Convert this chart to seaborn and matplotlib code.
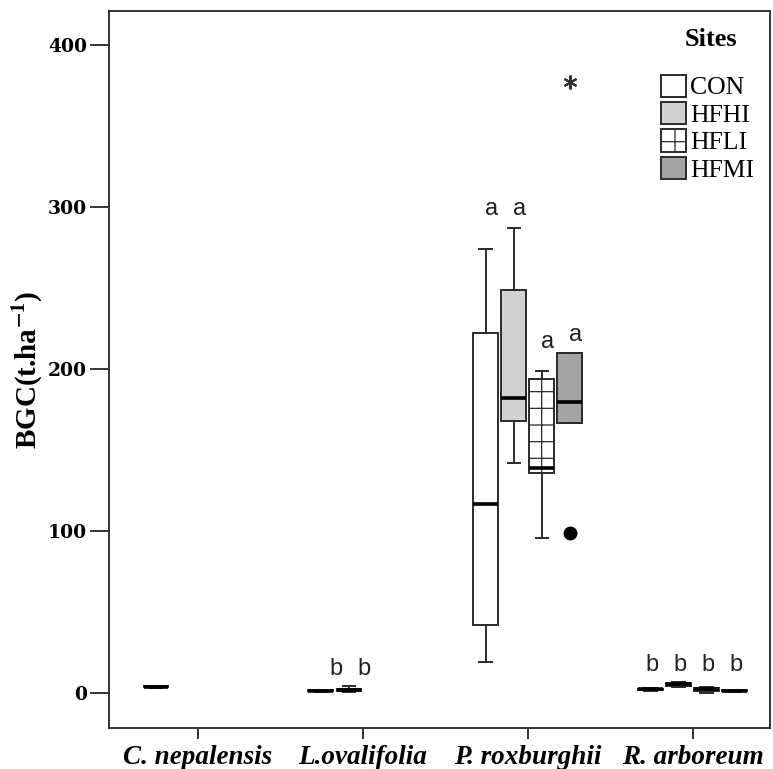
import numpy as np
import pandas as pd
import matplotlib.pyplot as plt
import seaborn as sns
from matplotlib.patches import Patch

# data (BGC, t/ha)
species = ['C. nepalensis', 'L.ovalifolia', 'P. roxburghii', 'R. arboreum']
sites = ['CON', 'HFHI', 'HFLI', 'HFMI']

c_nep_con = [3.2, 3.5, 3.9, 4.3, 4.6]
l_ova_con = [0.9, 1.1, 1.4, 1.7, 1.9]
l_ova_hfhi = [0.5, 1.2, 2.0, 2.7, 4.6]
p_rox_con = [19, 42, 117, 222, 274]
p_rox_hfhi = [142, 168, 182, 249, 287]
p_rox_hfli = [96, 136, 139, 194, 199]
p_rox_hfmi = [99, 167, 167, 180, 210, 210, 377]
r_arb_con = [1.6, 1.9, 2.3, 2.6, 2.9]
r_arb_hfhi = [3.9, 4.6, 5.5, 6.0, 6.6]
r_arb_hfli = [0.2, 1.4, 2.5, 3.3, 4.1]
r_arb_hfmi = [0.8, 1.1, 1.4, 1.7, 2.0]

groups = [
    ('C. nepalensis', 'CON', c_nep_con),
    ('L.ovalifolia', 'CON', l_ova_con),
    ('L.ovalifolia', 'HFHI', l_ova_hfhi),
    ('P. roxburghii', 'CON', p_rox_con),
    ('P. roxburghii', 'HFHI', p_rox_hfhi),
    ('P. roxburghii', 'HFLI', p_rox_hfli),
    ('P. roxburghii', 'HFMI', p_rox_hfmi),
    ('R. arboreum', 'CON', r_arb_con),
    ('R. arboreum', 'HFHI', r_arb_hfhi),
    ('R. arboreum', 'HFLI', r_arb_hfli),
    ('R. arboreum', 'HFMI', r_arb_hfmi),
]

# significance letters
letter_groups = [('L.ovalifolia', 'CON'), ('L.ovalifolia', 'HFHI'),
                 ('P. roxburghii', 'CON'), ('P. roxburghii', 'HFHI'),
                 ('P. roxburghii', 'HFLI'), ('P. roxburghii', 'HFMI'),
                 ('R. arboreum', 'CON'), ('R. arboreum', 'HFHI'),
                 ('R. arboreum', 'HFLI'), ('R. arboreum', 'HFMI')]
letters = ['b', 'b', 'a', 'a', 'a', 'a', 'b', 'b', 'b', 'b']

rows = []
for sp, site, vals in groups:
    for v in vals:
        rows.append({'species': sp, 'site': site, 'bgc': v})
df = pd.DataFrame(rows)

# extremes (> 3 IQR) are drawn as stars, like SPSS
extremes = []
for sp, site, vals in groups:
    q1, q3 = np.percentile(vals, [25, 75])
    iqr = q3 - q1
    extremes += [v for v in vals if v > q3 + 3 * iqr or v < q1 - 3 * iqr]

fills = {'CON': 'white', 'HFHI': '#d2d2d2', 'HFLI': 'white', 'HFMI': '#a3a3a3'}
hatches = {'CON': '', 'HFHI': '', 'HFLI': '+', 'HFMI': ''}
edge = '#2a2a2a'

plt.rcParams['hatch.linewidth'] = 0.9
plt.rcParams['mathtext.fontset'] = 'stix'
fig = plt.figure(figsize=(7.73, 7.69), dpi=100)
ax = fig.add_axes([109 / 773, 41 / 769, 661 / 773, 717 / 769])

box_w = 0.68
sns.boxplot(data=df, x='species', y='bgc', hue='site', order=species,
            hue_order=sites, palette=fills, saturation=1, width=box_w,
            gap=0.12, linecolor=edge, linewidth=1.4,
            medianprops=dict(color='black', linewidth=2.6),
            flierprops=dict(marker='o', markerfacecolor='black',
                            markeredgecolor='black', markersize=9),
            legend=False, ax=ax)

for site, cont in zip(sites, ax.containers):
    for b in cont.boxes:
        b.set_hatch(hatches[site])

# split fliers into outliers (circles) and extremes (stars)
for ln in ax.lines:
    if ln.get_marker() != 'o':
        continue
    x = np.asarray(ln.get_xdata(), float)
    y = np.asarray(ln.get_ydata(), float)
    if len(y) == 0:
        continue
    ext = np.isin(y, extremes)
    ln.set_data(x[~ext], y[~ext])
    ax.plot(x[ext], y[ext], ls='none', marker=(6, 2, 0), ms=10,
            mew=1.5, color='#333333')

# letters
nudge = {'L.ovalifolia': 11, 'P. roxburghii': 4, 'R. arboreum': 1}
letter_y = {'L.ovalifolia': 15, 'R. arboreum': 17.5}
prox_y = {'CON': 298.5, 'HFHI': 298.5, 'HFLI': 217, 'HFMI': 221}
for (sp, site), lab in zip(letter_groups, letters):
    xc = species.index(sp) + (sites.index(site) - 1.5) * box_w / 4
    yy = prox_y[site] if sp == 'P. roxburghii' else letter_y[sp]
    ax.annotate(lab, (xc, yy), xytext=(nudge[sp], 0), textcoords='offset points',
                ha='center', va='center', fontsize=17, color='#222222',
                family='Liberation Sans')

ax.set_xlim(-0.54, 3.47)
ax.set_ylim(-21.5, 421)
ax.set_yticks([0, 100, 200, 300, 400])
ax.set_xlabel('')
ax.set_ylabel('BGC(t.ha$^{\\mathbf{-1}}$)', fontsize=21, fontweight='bold',
              family='Liberation Serif', labelpad=2)
for s in ax.spines.values():
    s.set_linewidth(1.4)
    s.set_color('#333333')
ax.tick_params(axis='y', length=14, width=1.4, color='#333333', pad=2)
ax.tick_params(axis='x', length=8, width=1.4, color='#333333', pad=4)
for t in ax.get_yticklabels():
    t.set_fontfamily('DejaVu Serif')
    t.set_fontweight('bold')
    t.set_fontsize(13.5)
for t in ax.get_xticklabels():
    t.set_fontfamily('Liberation Serif')
    t.set_fontweight('bold')
    t.set_fontstyle('italic')
    t.set_fontsize(19.5)

handles = [Patch(facecolor=fills[s], edgecolor=edge, hatch=hatches[s],
                 linewidth=1.4, label=s) for s in sites]
ax.text(0.911, 0.96, 'Sites', transform=ax.transAxes, ha='center',
        va='center', family='Liberation Serif', fontweight='bold',
        fontsize=19)
leg = ax.legend(handles=handles, loc='upper left',
                bbox_to_anchor=(0.8306, 0.915), frameon=False,
                handlelength=1.0, handleheight=0.95, handletextpad=0.15,
                labelspacing=0.1, borderaxespad=0, borderpad=0.1,
                prop={'family': 'Liberation Serif', 'size': 18.5})

fig.savefig('out.png', dpi=100)
